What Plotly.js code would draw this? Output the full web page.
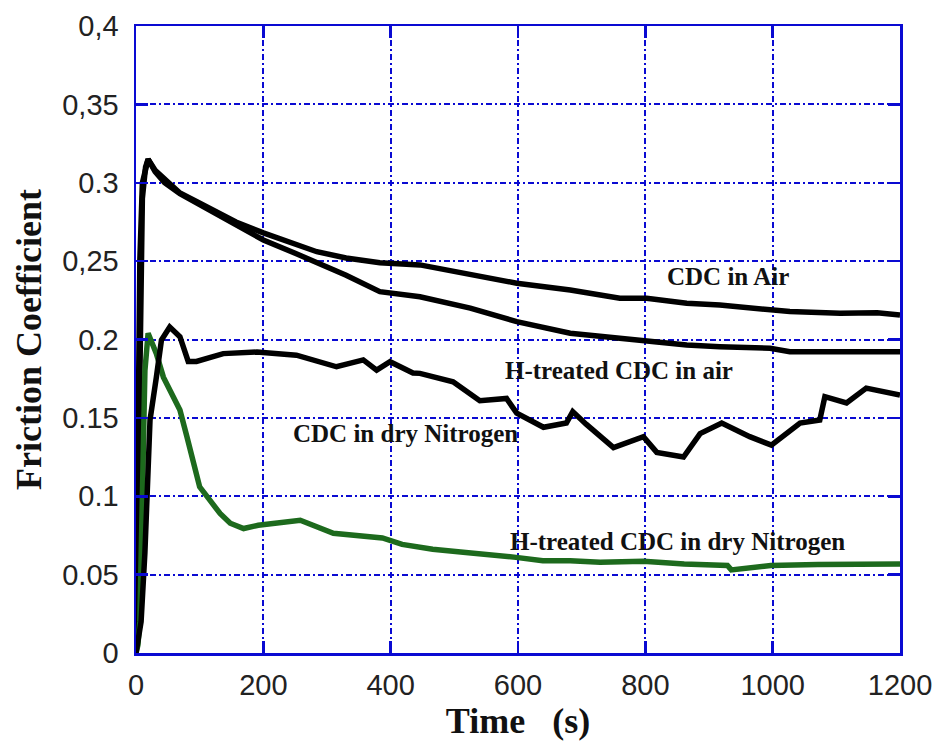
<!DOCTYPE html>
<html>
<head>
<meta charset="utf-8">
<script src="https://cdn.plot.ly/plotly-3.0.1.min.js"></script>
<style>html,body{margin:0;padding:0;background:#fff;}</style>
</head>
<body>
<div id="chart" style="width:937px;height:749px;"></div>
<script>
// ---- Data ----
const airTime = [0, 3, 6, 10, 15, 19, 30, 45, 69, 95, 121, 157, 200, 250, 284, 330, 383, 446, 525, 598, 682, 760, 802, 865, 917, 996, 1027, 1106, 1164, 1200];
const airValues = [0, 0.12, 0.25, 0.30, 0.31, 0.315, 0.308, 0.302, 0.2935, 0.288, 0.2827, 0.275, 0.268, 0.261, 0.256, 0.252, 0.249, 0.2476, 0.2412, 0.2359, 0.2316, 0.2263, 0.2263, 0.2231, 0.222, 0.2195, 0.2178, 0.2167, 0.217, 0.2156];

const hAirTime = [0, 3, 6, 10, 15, 19, 30, 45, 69, 95, 121, 157, 200, 250, 284, 330, 383, 446, 525, 598, 682, 760, 802, 865, 917, 996, 1027, 1106, 1164, 1200];
const hAirValues = [0, 0.1, 0.22, 0.29, 0.31, 0.315, 0.307, 0.300, 0.293, 0.287, 0.281, 0.273, 0.2635, 0.255, 0.249, 0.241, 0.2305, 0.2273, 0.22, 0.2114, 0.204, 0.2008, 0.1986, 0.1965, 0.1954, 0.1944, 0.1922, 0.192, 0.1925, 0.1922];

const n2Time = [0, 8, 14, 18, 22, 32, 40, 53, 69, 82, 95, 137, 190, 252, 315, 357, 378, 399, 435, 446, 498, 540, 582, 598, 640, 676, 686, 707, 750, 797, 818, 860, 886, 920, 964, 998, 1043, 1074, 1082, 1116, 1147, 1200];
const n2Values = [0, 0.02, 0.064, 0.11, 0.1486, 0.176, 0.1997, 0.208, 0.2018, 0.186, 0.186, 0.191, 0.192, 0.19, 0.1826, 0.187, 0.1805, 0.1858, 0.1786, 0.1784, 0.173, 0.161, 0.1624, 0.153, 0.144, 0.1467, 0.154, 0.146, 0.131, 0.138, 0.128, 0.125, 0.140, 0.1467, 0.138, 0.1326, 0.1467, 0.1486, 0.1635, 0.1595, 0.169, 0.1646];

const hN2Time = [0, 3, 6, 9, 12, 14, 19, 32, 43, 59, 69, 80, 90, 100, 116, 132, 148, 169, 192, 258, 310, 362, 387, 418, 466, 518, 561, 597, 639, 682, 729, 797, 861, 929, 935, 997, 1071, 1124, 1200];
const hN2Values = [0, 0.005, 0.02, 0.085, 0.149, 0.18, 0.204, 0.191, 0.176, 0.1635, 0.155, 0.138, 0.121, 0.106, 0.0975, 0.089, 0.0828, 0.0794, 0.0815, 0.0847, 0.0764, 0.0739, 0.0734, 0.0693, 0.0662, 0.0641, 0.0627, 0.061, 0.0589, 0.0589, 0.0579, 0.0585, 0.0568, 0.0558, 0.053, 0.0558, 0.0564, 0.0565, 0.0568];

const xTickVals = [0, 200, 400, 600, 800, 1000, 1200];
const xTickText = ['0', '200', '400', '600', '800', '1000', '1200'];
const yTickVals = [0, 0.05, 0.1, 0.15, 0.2, 0.25, 0.3, 0.35, 0.4];
const yTickText = ['0', '0.05', '0.1', '0.15', '0.2', '0,25', '0.3', '0,35', '0,4'];

const labelTexts = ['CDC in Air', 'H-treated CDC in air', 'CDC in dry Nitrogen', 'H-treated CDC in dry Nitrogen'];
const labelX = [930, 759, 424, 850];
const labelY = [0.240, 0.1805, 0.1401, 0.0709];

// ---- Chart ----
const black = '#000000';
const green = '#1d6a1d';
const blue = '#0a0ad2';

const traces = [
  {x: airTime, y: airValues, mode: 'lines', line: {color: black, width: 5.5}, name: labelTexts[0]},
  {x: hAirTime, y: hAirValues, mode: 'lines', line: {color: black, width: 5.5}, name: labelTexts[1]},
  {x: hN2Time, y: hN2Values, mode: 'lines', line: {color: green, width: 5.5}, name: labelTexts[3]},
  {x: n2Time, y: n2Values, mode: 'lines', line: {color: black, width: 5.5}, name: labelTexts[2]}
];

const serif = 'Liberation Serif, Times New Roman, serif';
const sans = 'Liberation Sans, Arial, sans-serif';

const annotations = labelTexts.map((t, i) => ({
  x: labelX[i], y: labelY[i], xref: 'x', yref: 'y', text: t, showarrow: false,
  font: {family: serif, size: 25, color: '#111', weight: 'bold'},
  xanchor: 'center', yanchor: 'middle'
}));

const axisCommon = {
  showline: true, linecolor: blue, linewidth: 2.5, mirror: 'ticks',
  ticks: 'inside', ticklen: 12, tickwidth: 2.5, tickcolor: blue,
  showgrid: true, gridcolor: blue, gridwidth: 2, griddash: '6px,3px,2px,3px',
  zeroline: false, tickfont: {family: sans, size: 29, color: '#222'}
};

const layout = {
  width: 937, height: 749,
  margin: {l: 136, r: 37, t: 26, b: 96},
  paper_bgcolor: '#ffffff', plot_bgcolor: '#ffffff',
  showlegend: false,
  xaxis: Object.assign({}, axisCommon, {
    range: [0, 1200], tickmode: 'array', tickvals: xTickVals, ticktext: xTickText,
    ticklabelstandoff: 5,
    title: {text: 'Time\u00a0\u00a0\u00a0(s)', font: {family: serif, size: 36, color: '#111', weight: 'bold'}, standoff: 2}
  }),
  yaxis: Object.assign({}, axisCommon, {
    range: [0, 0.4], tickmode: 'array', tickvals: yTickVals, ticktext: yTickText,
    ticklabelstandoff: 9,
    title: {text: 'Friction Coefficient', font: {family: serif, size: 36, color: '#111', weight: 'bold'}, standoff: 10}
  }),
  annotations: annotations
};

Plotly.newPlot('chart', traces, layout, {displayModeBar: false, staticPlot: true});
</script>
</body>
</html>
